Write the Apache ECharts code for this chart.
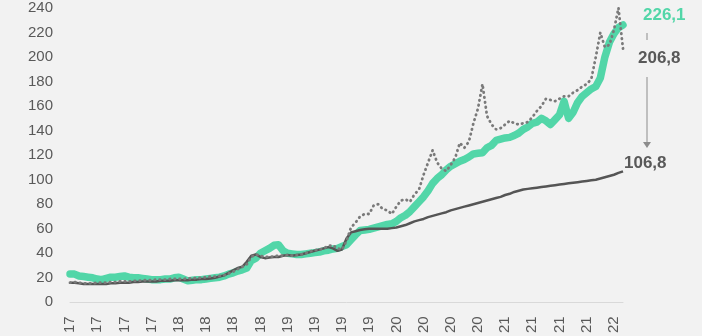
<!DOCTYPE html>
<html>
<head>
<meta charset="utf-8">
<script src="https://cdn.jsdelivr.net/npm/echarts@6/dist/echarts.min.js"></script>
<style>
html,body{margin:0;padding:0;background:#f2f2f2;}
#chart{width:702px;height:336px;}
</style>
</head>
<body>
<div id="chart"></div>
<script>
// Quarter tick labels (2017 Q1 .. 2022 Q1)
var tickLabels = ['17','17','17','17','18','18','18','18','19','19','19','19','20','20','20','20','21','21','21','21','22'];
var pointsPerQuarter = 6;

// Teal series (thick)
var tealValues = [
23,23,21.5,21,20.5,20,19,18.5,19.5,20.5,
20.5,21,21.5,20.5,20,20,19.5,19,18.5,18.5,
18.5,19,19,20,20.5,19,17.5,18,18.5,18.5,
19,19.5,20,20.5,21.5,23,24,25.5,26.5,28,
34,36,40,42,44,46.5,47,42,40,39.5,
39,39,39.5,40,40.5,41,42,42.5,43.5,44,
45.5,47,51,55,58.5,59,59.5,60.5,61.5,62.5,
63.5,64,66,69,71,74,78,82,86,91,
97,101,104,108,111,113,115,116.5,118.5,121,
121.5,122,126,128,132,133,134,134.5,136,138,
141,143,146,147,150,148,145,149,153,164,
150,155,163,168,171,174,176,183,200,212,
219,224,226.1];

// Dark grey solid series
var solidValues = [
16,16,15.5,15,15,15,15,15,15,15.5,
15.5,16,16,16,16.5,16.5,17,17,17,17,
17.5,17.5,17.5,18,18,18,18,18.5,18.5,19,
19,19.5,20,21,22,24,26,28,29,33,
38,39,37,36,36.5,37,37,38,38.5,38,
38.5,39,40,41,42,43,44,45,44,42,
43,52,57,58,59,59.5,60,60,60,60,
60,60.5,61,62,63,64.5,66,67,68,69.5,
70.5,71.5,72.5,73.5,75,76,77,78,79,80,
81,82,83,84,85,86,87.5,88.5,90,91,
92,92.5,93,93.5,94,94.5,95,95.5,96,96.5,
97,97.5,98,98.5,99,99.5,100,101,102,103,
104,105.5,106.8];

// Grey dotted series
var dottedValues = [
16,16.5,16,15.5,15.5,15.5,16,16,16,16.5,
16.5,17,17,17,17.5,17.5,18,18,18,18.5,
18.5,18.5,19,19,19,19,19.5,19.5,20,20,
20.5,21,21,21.5,22,23.5,25,27,29,31,
37,39,38,37,37,37.5,38,38,38.5,38,
38.5,39,40,41.5,42.5,43,44,46,46.5,44,
43,50,61,65,70,72,72,79,80,76,
75,72,78,83,84,82,88,92,104,114,
124,114,109,107,112,118,130,126,131,146,
158,178,152,145,141,142,145,148,146,145,
146,147,151,156,160,166,165,164,166,168,
168,171,173,176,178,182,200,220,208,210,
222,240,206.8];

var endLabels = ['226,1', '206,8', '106,8'];

var categories = [];
for (var i = 0; i < tealValues.length; i++) {
  categories.push(tickLabels[Math.min(tickLabels.length - 1, Math.floor(i / pointsPerQuarter))]);
}

var chart = echarts.init(document.getElementById('chart'), null, {renderer: 'canvas'});
var font = 'Liberation Sans';
chart.setOption({
  backgroundColor: '#f2f2f2',
  animation: false,
  grid: {left: 70, right: 79, top: 8, bottom: 30, containLabel: false},
  xAxis: {
    type: 'category',
    data: categories,
    boundaryGap: false,
    axisLine: {show: true, lineStyle: {color: '#d9d9d9', width: 1}},
    axisTick: {show: false},
    splitLine: {show: false},
    axisLabel: {
      interval: pointsPerQuarter - 1,
      rotate: 90,
      margin: 14,
      color: '#595959',
      fontSize: 15,
      fontFamily: font
    }
  },
  yAxis: {
    type: 'value',
    min: 0, max: 240, interval: 20,
    axisLine: {show: false},
    axisTick: {show: false},
    splitLine: {show: false},
    axisLabel: {margin: 17, color: '#595959', fontSize: 15, fontFamily: font}
  },
  series: [
    {
      type: 'line', data: tealValues, symbol: 'none', z: 2,
      lineStyle: {color: '#52d6a8', width: 7.5, cap: 'round', join: 'round'}
    },
    {
      type: 'line', data: solidValues, symbol: 'none', z: 3,
      lineStyle: {color: '#555555', width: 2.5}
    },
    {
      type: 'line', data: dottedValues, symbol: 'none', z: 4,
      lineStyle: {color: '#7a7a7a', width: 2.8, type: [0.5, 4.5], cap: 'round'}
    }
  ],
  graphic: [
    {type: 'text', left: 643, top: 7, style: {text: endLabels[0], fill: '#52d6a8', font: 'bold 17px "Liberation Sans"'}},
    {type: 'line', shape: {x1: 647, y1: 33, x2: 647, y2: 40}, style: {stroke: '#8c8c8c', lineWidth: 1}},
    {type: 'text', left: 638, top: 50, style: {text: endLabels[1], fill: '#595959', font: 'bold 17px "Liberation Sans"'}},
    {type: 'line', shape: {x1: 647, y1: 77, x2: 647, y2: 144}, style: {stroke: '#8c8c8c', lineWidth: 1}},
    {type: 'polygon', shape: {points: [[643, 142], [651, 142], [647, 148]]}, style: {fill: '#8c8c8c'}},
    {type: 'text', left: 624, top: 155, style: {text: endLabels[2], fill: '#595959', font: 'bold 17px "Liberation Sans"'}}
  ]
});
</script>
</body>
</html>
